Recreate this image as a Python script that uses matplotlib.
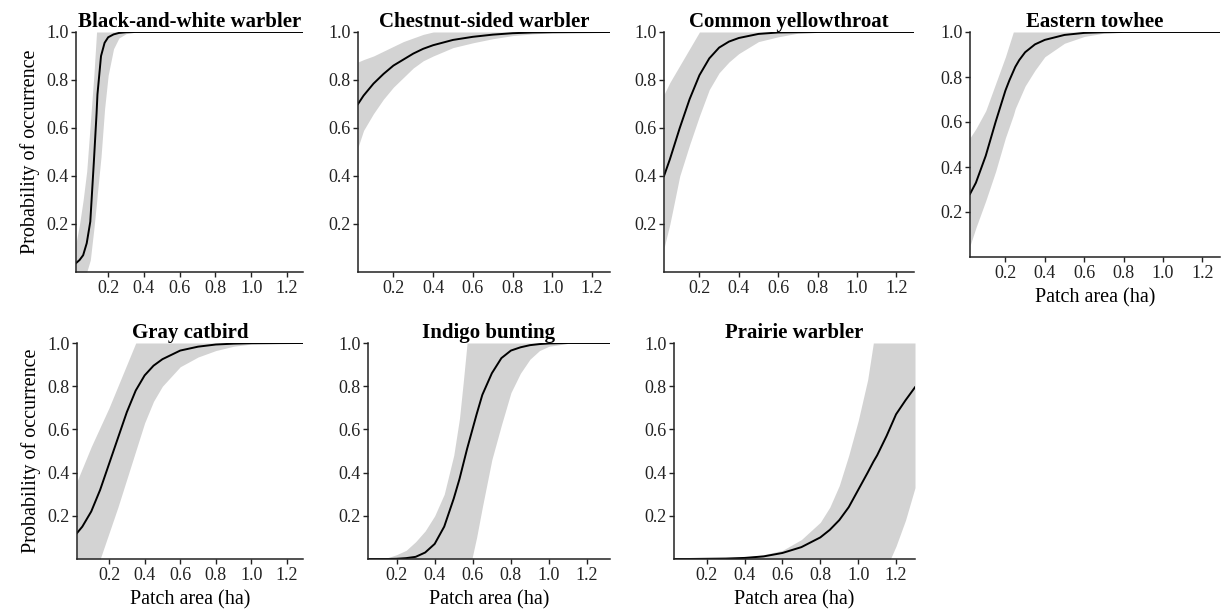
import numpy as np
import matplotlib
matplotlib.use("Agg")
import matplotlib.pyplot as plt

plt.rcParams['font.family'] = ['Liberation Serif', 'DejaVu Serif']

# ----------------------
# Data (x = patch area in ha, y = probability)
# ----------------------
titles = ["Black-and-white warbler", "Chestnut-sided warbler", "Common yellowthroat",
          "Eastern towhee", "Gray catbird", "Indigo bunting", "Prairie warbler"]

bw_x = [0.02, 0.04, 0.06, 0.08, 0.10, 0.12, 0.135, 0.14, 0.16, 0.18, 0.20, 0.23, 0.26, 0.30, 0.35, 0.40, 1.29]
bw_fit = [0.037, 0.05, 0.07, 0.12, 0.21, 0.46, 0.66, 0.74, 0.90, 0.955, 0.978, 0.99, 0.996, 0.999, 1.0, 1.0, 1.0]
bw_hi = [0.12, 0.20, 0.30, 0.42, 0.62, 0.82, 1.0, 1.0, 1.0, 1.0, 1.0, 1.0, 1.0, 1.0, 1.0, 1.0, 1.0]
bw_lo = [0.0, 0.0, 0.0, 0.0, 0.05, 0.18, 0.29, 0.33, 0.48, 0.68, 0.82, 0.93, 0.975, 0.993, 0.999, 1.0, 1.0]

cs_x = [0.022, 0.05, 0.1, 0.15, 0.2, 0.25, 0.3, 0.35, 0.4, 0.5, 0.6, 0.7, 0.8, 0.9, 1.0, 1.29]
cs_fit = [0.70, 0.735, 0.785, 0.825, 0.86, 0.885, 0.91, 0.93, 0.945, 0.967, 0.98, 0.989, 0.995, 0.998, 0.999, 1.0]
cs_hi = [0.875, 0.885, 0.90, 0.92, 0.94, 0.96, 0.975, 0.99, 1.0, 1.0, 1.0, 1.0, 1.0, 1.0, 1.0, 1.0]
cs_lo = [0.52, 0.59, 0.66, 0.72, 0.77, 0.81, 0.85, 0.88, 0.90, 0.935, 0.955, 0.972, 0.985, 0.992, 0.997, 1.0]

cy_x = [0.02, 0.05, 0.1, 0.15, 0.2, 0.25, 0.3, 0.35, 0.4, 0.5, 0.6, 0.7, 0.8, 1.29]
cy_fit = [0.40, 0.47, 0.60, 0.72, 0.82, 0.89, 0.935, 0.96, 0.975, 0.992, 0.998, 0.999, 1.0, 1.0]
cy_hi = [0.74, 0.79, 0.86, 0.93, 1.0, 1.0, 1.0, 1.0, 1.0, 1.0, 1.0, 1.0, 1.0, 1.0]
cy_lo = [0.10, 0.20, 0.40, 0.53, 0.65, 0.76, 0.83, 0.875, 0.91, 0.96, 0.98, 0.995, 0.998, 1.0]

et_x = [0.02, 0.05, 0.1, 0.15, 0.2, 0.22, 0.24, 0.25, 0.27, 0.3, 0.35, 0.4, 0.5, 0.6, 0.7, 0.8, 1.29]
et_fit = [0.28, 0.33, 0.45, 0.60, 0.74, 0.785, 0.825, 0.845, 0.875, 0.91, 0.945, 0.965, 0.987, 0.996, 0.999, 1.0, 1.0]
et_hi = [0.53, 0.57, 0.65, 0.77, 0.89, 0.945, 1.0, 1.0, 1.0, 1.0, 1.0, 1.0, 1.0, 1.0, 1.0, 1.0, 1.0]
et_lo = [0.05, 0.13, 0.25, 0.38, 0.53, 0.58, 0.63, 0.66, 0.70, 0.76, 0.83, 0.89, 0.95, 0.98, 0.995, 0.999, 1.0]

gc_x = [0.02, 0.05, 0.1, 0.15, 0.2, 0.25, 0.3, 0.35, 0.4, 0.45, 0.5, 0.6, 0.7, 0.8, 0.9, 1.0, 1.29]
gc_fit = [0.12, 0.15, 0.22, 0.32, 0.44, 0.56, 0.68, 0.78, 0.85, 0.895, 0.925, 0.965, 0.983, 0.993, 0.997, 0.999, 1.0]
gc_hi = [0.36, 0.42, 0.52, 0.61, 0.70, 0.80, 0.90, 1.0, 1.0, 1.0, 1.0, 1.0, 1.0, 1.0, 1.0, 1.0, 1.0]
gc_lo = [0.0, 0.0, 0.0, 0.0, 0.12, 0.24, 0.37, 0.50, 0.63, 0.73, 0.80, 0.89, 0.935, 0.965, 0.985, 0.995, 1.0]

ib_x = [0.05, 0.1, 0.15, 0.2, 0.25, 0.3, 0.35, 0.4, 0.45, 0.5, 0.53, 0.55, 0.57, 0.595, 0.62, 0.65,
        0.7, 0.75, 0.8, 0.85, 0.9, 0.95, 1.0, 1.1, 1.32]
ib_fit = [0.0, 0.0, 0.0, 0.001, 0.004, 0.01, 0.03, 0.07, 0.15, 0.28, 0.37, 0.44, 0.51, 0.59, 0.67, 0.76,
          0.86, 0.93, 0.965, 0.98, 0.99, 0.995, 0.998, 1.0, 1.0]
ib_hi = [0.0, 0.0, 0.005, 0.02, 0.04, 0.08, 0.13, 0.20, 0.30, 0.48, 0.65, 0.82, 1.0, 1.0, 1.0, 1.0,
         1.0, 1.0, 1.0, 1.0, 1.0, 1.0, 1.0, 1.0, 1.0]
ib_lo = [0.0, 0.0, 0.0, 0.0, 0.0, 0.0, 0.0, 0.0, 0.0, 0.0, 0.0, 0.0, 0.0, 0.0, 0.1, 0.24,
         0.46, 0.62, 0.77, 0.86, 0.925, 0.965, 0.985, 0.998, 1.0]

pw_x = [0.027, 0.1, 0.2, 0.3, 0.4, 0.5, 0.6, 0.7, 0.8, 0.85, 0.9, 0.95, 1.0, 1.05, 1.08, 1.1, 1.15, 1.17, 1.2, 1.25, 1.3]
pw_fit = [0.0, 0.0, 0.001, 0.002, 0.005, 0.012, 0.028, 0.055, 0.10, 0.135, 0.18, 0.24, 0.32, 0.40, 0.45, 0.48,
          0.57, 0.61, 0.67, 0.735, 0.795]
pw_hi = [0.0, 0.0, 0.001, 0.002, 0.008, 0.02, 0.04, 0.09, 0.17, 0.24, 0.34, 0.48, 0.64, 0.83, 1.0, 1.0,
         1.0, 1.0, 1.0, 1.0, 1.0]
pw_lo = [0.0, 0.0, 0.0, 0.0, 0.0, 0.0, 0.0, 0.0, 0.0, 0.0, 0.0, 0.0, 0.0, 0.0, 0.0, 0.0,
         0.0, 0.0, 0.06, 0.18, 0.33]

xs = [bw_x, cs_x, cy_x, et_x, gc_x, ib_x, pw_x]
fits = [bw_fit, cs_fit, cy_fit, et_fit, gc_fit, ib_fit, pw_fit]
his = [bw_hi, cs_hi, cy_hi, et_hi, gc_hi, ib_hi, pw_hi]
los = [bw_lo, cs_lo, cy_lo, et_lo, gc_lo, ib_lo, pw_lo]

x_ticks = [0.2, 0.4, 0.6, 0.8, 1.0, 1.2]
y_ticks = [0.2, 0.4, 0.6, 0.8, 1.0]

# ----------------------
# Panel boxes in pixels: left, right, top, bottom
# ----------------------
W, H = 1221, 614
boxes = [(76, 303, 32, 272), (358, 610, 32, 272), (664, 914, 32, 272), (970, 1220, 32, 257),
         (77, 303, 343, 559), (368, 610, 343, 559), (674, 915, 343, 559)]
xlims = [(0.02, 1.29), (0.022, 1.29), (0.02, 1.29), (0.02, 1.29),
         (0.02, 1.29), (0.05, 1.32), (0.027, 1.30)]
show_ylabel = [True, False, False, False, True, False, False]
show_xlabel = [False, False, False, True, True, True, True]

fig = plt.figure(figsize=(W / 100, H / 100), dpi=100)

for i in range(7):
    l, r, t, b = boxes[i]
    ax = fig.add_axes([l / W, 1 - b / H, (r - l) / W, (b - t) / H])
    ax.fill_between(xs[i], los[i], his[i], color='#d3d3d3', lw=0)
    ax.plot(xs[i], fits[i], color='black', lw=1.4)
    ax.set_xlim(*xlims[i])
    ax.set_ylim(0, 1)
    ax.set_xticks(x_ticks)
    ax.set_xticklabels([f"{v:.1f}" for v in x_ticks])
    ax.set_yticks(y_ticks)
    ax.set_yticklabels([f"{v:.1f}" for v in y_ticks])
    ax.tick_params(labelsize=13, length=3.5, width=1, colors='#222222', pad=2)
    ax.spines['top'].set_visible(False)
    ax.spines['right'].set_visible(False)
    for s in ['left', 'bottom']:
        ax.spines[s].set_linewidth(1.1)
        ax.spines[s].set_color('#222222')
    ax.set_title(titles[i], fontsize=15, fontweight='bold', pad=2)
    if show_ylabel[i]:
        ax.set_ylabel('Probability of occurrence', fontsize=14.5, labelpad=4)
    if show_xlabel[i]:
        ax.set_xlabel('Patch area (ha)', fontsize=14.5, labelpad=5)

fig.savefig('out.png', dpi=100)
